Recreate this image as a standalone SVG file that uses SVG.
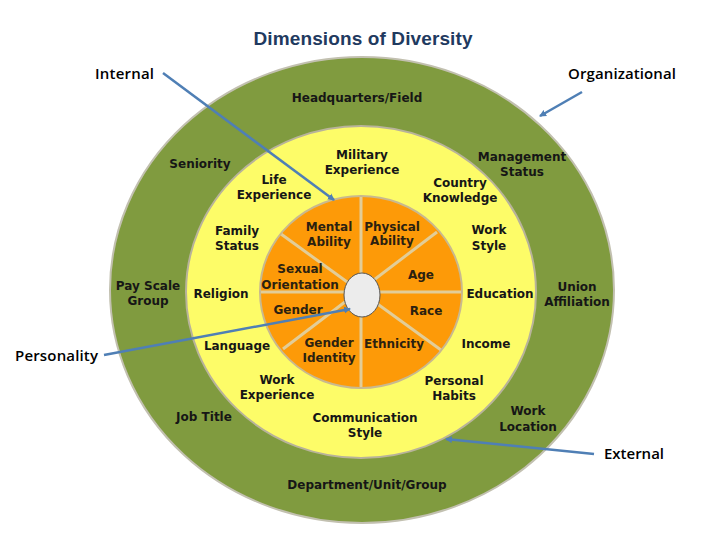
<svg xmlns="http://www.w3.org/2000/svg" width="720" height="540" viewBox="0 0 720 540">
<defs>
<style>
.t{font-family:"DejaVu Sans",Verdana,sans-serif;font-weight:bold;font-size:12px;fill:#161616;text-anchor:middle}
.o{fill:#2b2110}
.c{font-family:"Open Sans","Liberation Sans",sans-serif;font-weight:600;font-size:15px;fill:#000}
.title{font-family:"Liberation Sans",Arial,sans-serif;font-weight:bold;font-size:19px;fill:#1f3a60;text-anchor:middle}
.sp{stroke:#e2cd98;stroke-width:3}
.ar{stroke:#4f7fb5;stroke-width:2.5;fill:none;marker-end:url(#ah)}
</style>
<marker id="ah" markerWidth="8" markerHeight="8" refX="6" refY="4" orient="auto" markerUnits="userSpaceOnUse" viewBox="0 0 8 8">
<path d="M0,0.5 L7,4 L0,7.5 z" fill="#4f7fb5"/>
</marker>
</defs>
<rect width="720" height="540" fill="#fff"/>
<text class="title" x="363" y="45" textLength="219">Dimensions of Diversity</text>

<g id="ring-organizational">
<ellipse cx="362" cy="290" rx="252" ry="233" fill="#809b3f" stroke="#c2c0b0" stroke-width="2"/>
</g>
<g id="ring-external">
<ellipse cx="361" cy="292" rx="175" ry="166" fill="#fdfc68" stroke="#b8b39a" stroke-width="2"/>
</g>
<g id="ring-internal">
<ellipse cx="361" cy="292" rx="101" ry="96" fill="#fd9a08"/>
<line class="sp" x1="361" y1="196" x2="361" y2="388"/>
<line class="sp" x1="260" y1="292" x2="462" y2="292"/>
<line class="sp" x1="281" y1="234" x2="441" y2="350"/>
<line class="sp" x1="437" y1="232" x2="283" y2="349"/>
<ellipse cx="361" cy="292" rx="101" ry="96" fill="none" stroke="#c9b98e" stroke-width="2"/>
</g>
<g id="personality">
<ellipse cx="362" cy="295" rx="18" ry="22" fill="#ececec" stroke="#555" stroke-width="1"/>
</g>

<g id="labels-organizational">
<text class="t" x="357" y="102">Headquarters/Field</text>
<text class="t" x="200" y="168">Seniority</text>
<text class="t" x="522" y="161">Management</text>
<text class="t" x="522" y="176">Status</text>
<text class="t" x="148" y="290">Pay Scale</text>
<text class="t" x="148" y="305">Group</text>
<text class="t" x="577" y="291">Union</text>
<text class="t" x="577" y="306">Affiliation</text>
<text class="t" x="204" y="421">Job Title</text>
<text class="t" x="528" y="415">Work</text>
<text class="t" x="528" y="431">Location</text>
<text class="t" x="367" y="489">Department/Unit/Group</text>
</g>
<g id="labels-external">
<text class="t" x="362" y="159">Military</text>
<text class="t" x="362" y="174">Experience</text>
<text class="t" x="274" y="184">Life</text>
<text class="t" x="274" y="199">Experience</text>
<text class="t" x="460" y="187">Country</text>
<text class="t" x="460" y="202">Knowledge</text>
<text class="t" x="237" y="235">Family</text>
<text class="t" x="237" y="250">Status</text>
<text class="t" x="489" y="234">Work</text>
<text class="t" x="489" y="250">Style</text>
<text class="t" x="221" y="298">Religion</text>
<text class="t" x="500" y="298">Education</text>
<text class="t" x="237" y="350">Language</text>
<text class="t" x="486" y="348">Income</text>
<text class="t" x="277" y="384">Work</text>
<text class="t" x="277" y="399">Experience</text>
<text class="t" x="454" y="385">Personal</text>
<text class="t" x="454" y="400">Habits</text>
<text class="t" x="365" y="422">Communication</text>
<text class="t" x="365" y="437">Style</text>
</g>
<g id="labels-internal">
<text class="t o" x="329" y="231">Mental</text>
<text class="t o" x="329" y="246">Ability</text>
<text class="t o" x="392" y="231">Physical</text>
<text class="t o" x="392" y="245">Ability</text>
<text class="t o" x="300" y="273">Sexual</text>
<text class="t o" x="300" y="289">Orientation</text>
<text class="t o" x="421" y="279">Age</text>
<text class="t o" x="298" y="314">Gender</text>
<text class="t o" x="426" y="315">Race</text>
<text class="t o" x="329" y="347">Gender</text>
<text class="t o" x="329" y="362">Identity</text>
<text class="t o" x="394" y="348">Ethnicity</text>
</g>

<g id="callout-labels">
<text class="c" x="95" y="79" textLength="59">Internal</text>
<text class="c" x="568" y="79" textLength="108">Organizational</text>
<text class="c" x="15" y="361" textLength="83">Personality</text>
<text class="c" x="604" y="459" textLength="60">External</text>
</g>
<g id="connectors">
<line class="ar" x1="163" y1="73" x2="334" y2="200"/>
<line class="ar" x1="582" y1="92" x2="540" y2="116"/>
<line class="ar" x1="104" y1="355" x2="350" y2="309"/>
<line class="ar" x1="594" y1="454" x2="446" y2="439"/>
</g>
</svg>
